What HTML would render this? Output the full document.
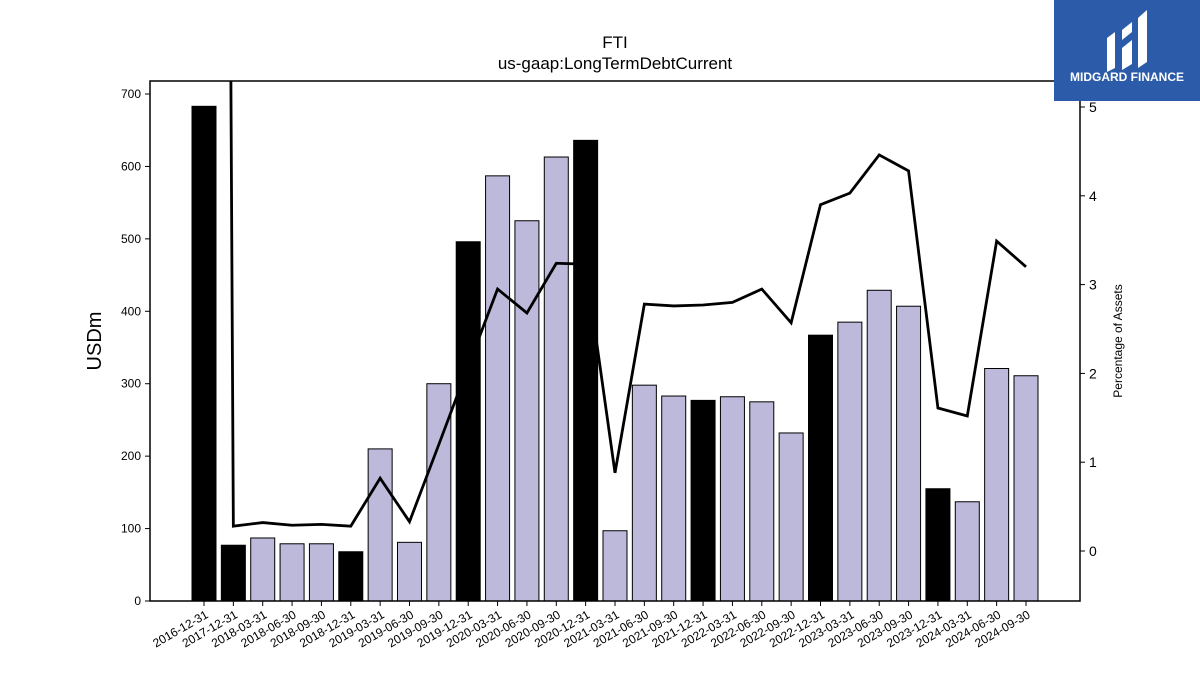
<!DOCTYPE html>
<html><head><meta charset="utf-8">
<style>
html,body{margin:0;padding:0;background:#fff;}
svg{display:block;font-family:"Liberation Sans",sans-serif;}
</style></head>
<body>
<svg id="chart" width="1200" height="675" viewBox="0 0 1200 675">
<defs><clipPath id="pc"><rect x="150" y="81" width="930" height="520"/></clipPath></defs>
<text x="615" y="48" font-size="17" text-anchor="middle">FTI</text>
<text x="615" y="69" font-size="17" text-anchor="middle">us-gaap:LongTermDebtCurrent</text>
<text transform="translate(101,341) rotate(-90)" font-size="20" text-anchor="middle">USDm</text>
<text transform="translate(1122,341) rotate(-90)" font-size="12" text-anchor="middle">Percentage of Assets</text>
<g id="bars"></g>
<g id="line" clip-path="url(#pc)"></g>
<g id="bars2"></g>
<g id="axes"></g>
<g>
<rect x="1054" y="0" width="146" height="101" fill="#2b5ba9"/>
<path d="M1107 38 l8 -6 v36 l-8 4z M1122 30 l10 -8 v10 l-10 8z M1122 48 l10 -8 v24 l-10 6z M1138 18 l9 -8 v52 l-9 6z" fill="#fff"/>
<text x="1127" y="81" font-size="12" font-weight="bold" fill="#fff" text-anchor="middle">MIDGARD FINANCE</text>
</g>
</svg>
<script>
const categories=["2016-12-31","2017-12-31","2018-03-31","2018-06-30","2018-09-30","2018-12-31","2019-03-31","2019-06-30","2019-09-30","2019-12-31","2020-03-31","2020-06-30","2020-09-30","2020-12-31","2021-03-31","2021-06-30","2021-09-30","2021-12-31","2022-03-31","2022-06-30","2022-09-30","2022-12-31","2023-03-31","2023-06-30","2023-09-30","2023-12-31","2024-03-31","2024-06-30","2024-09-30"];
const debtValues=[683,77,87,79,79,68,210,81,300,496,587,525,613,636,97,298,283,277,282,275,232,367,385,429,407,155,137,321,311];
const pctValues=[60,0.28,0.32,0.29,0.30,0.28,0.82,0.33,1.20,2.08,2.95,2.68,3.24,3.23,0.88,2.78,2.76,2.77,2.80,2.95,2.57,3.90,4.03,4.46,4.28,1.61,1.52,3.49,3.20];
const annual=[true,true,false,false,false,true,false,false,false,true,false,false,false,true,false,false,false,true,false,false,false,true,false,false,false,true,false,false,false];
const leftTicks=[0,100,200,300,400,500,600,700];
const rightTicks=[0,1,2,3,4,5];

const NS="http://www.w3.org/2000/svg";
const X0=150,X1=1080,Y0=601,YT=81;
const xPos=i=>204+i*(1026-204)/(categories.length-1);
const yL=v=>601-v*(601-94)/700;
const yR=v=>551-v*(551-107)/5;
function mk(tag,attrs,parent){const e=document.createElementNS(NS,tag);for(const k in attrs)e.setAttribute(k,attrs[k]);parent.appendChild(e);return e;}
const gb=document.getElementById('bars'),gb2=document.getElementById('bars2'),gl=document.getElementById('line'),ga=document.getElementById('axes');
const bw=24;
debtValues.forEach((v,i)=>{
  const r=mk('rect',{x:xPos(i)-bw/2,y:yL(v),width:bw,height:Y0-yL(v),fill:annual[i]?'#000':'#bdb9db',stroke:'#000','stroke-width':1},annual[i]?gb2:gb);
  
  
});
const pl=mk('polyline',{points:pctValues.map((v,i)=>xPos(i)+','+yR(v)).join(' '),fill:'none',stroke:'#000','stroke-width':2.8,'stroke-linejoin':'miter'},gl);


const frame=mk('rect',{x:X0,y:YT,width:X1-X0,height:Y0-YT,fill:'none',stroke:'#000','stroke-width':1.5},ga);


leftTicks.forEach(t=>{
  mk('line',{x1:X0-5,x2:X0,y1:yL(t),y2:yL(t),stroke:'#000'},ga);
  const tx=mk('text',{x:X0-9,y:yL(t)+4,'font-size':12,'text-anchor':'end'},ga);tx.textContent=t;
  
  
});
rightTicks.forEach(t=>{
  mk('line',{x1:X1,x2:X1+5,y1:yR(t),y2:yR(t),stroke:'#000'},ga);
  const tx=mk('text',{x:X1+9,y:yR(t)+5,'font-size':14},ga);tx.textContent=t;
  
  
});
categories.forEach((c,i)=>{
  const x=xPos(i);
  mk('line',{x1:x,x2:x,y1:Y0,y2:Y0+5,stroke:'#000'},ga);
  const tx=mk('text',{x:0,y:0,'font-size':12,'text-anchor':'end',transform:`translate(${x+5},${Y0+16}) rotate(-30)`},ga);tx.textContent=c;
  
  
});
</script>
</body></html>
